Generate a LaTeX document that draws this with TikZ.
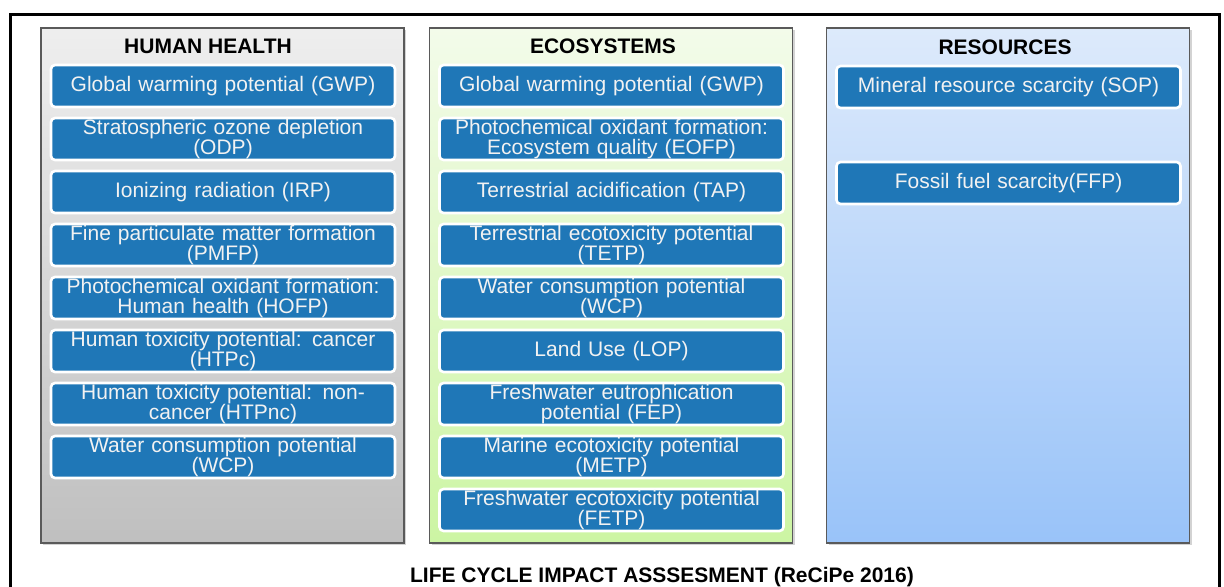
\documentclass[tikz,border=0pt]{standalone}
\usepackage{fontspec}
\setmainfont{Liberation Sans}
\usetikzlibrary{shadows}
\definecolor{itemblue}{HTML}{1F77B7}
\definecolor{framegray}{HTML}{5A5A5A}
\begin{document}
\begin{tikzpicture}[x=0.5pt,y=-0.5pt]
          \tikzstyle{every node}=[inner sep=0pt];
          \tikzstyle{column}=[draw=framegray,line width=0.6pt,minimum width=181.5pt,minimum height=257.5pt,drop shadow={shadow xshift=1pt,shadow yshift=-1.2pt,opacity=0.35}];
          \tikzstyle{head}=[font=\fontsize{10.5}{12}\selectfont\bfseries];
          \tikzstyle{item}=[draw=white,line width=1.3pt,fill=itemblue,rounded corners=2pt,minimum width=172pt,minimum height=21pt,text width=168pt,align=center,text=white!95!black,font=\fontsize{10.5}{10}\selectfont];
          \useasboundingbox (0,0) rectangle (1224,587);
          % outer frame, its lower edge runs off the page
          \draw[line width=1.5pt] (10.5,14.5) rectangle (1219,620);
          % the three columns
          \node[column,top color=gray!13,bottom color=gray!50] (hh) at (222.5,285.5) {};
          \node[column,top color={rgb,255:red,243;green,251;blue,234},bottom color={rgb,255:red,204;green,245;blue,163}] (eco) at (611,285.5) {};
          \node[column,top color={rgb,255:red,221;green,234;blue,251},bottom color={rgb,255:red,153;green,195;blue,249}] (res) at (1008,285.5) {};
          \node[head] (hhtitle) at (208,46) {HUMAN HEALTH};
          \node[head] (ecotitle) at (603,46) {ECOSYSTEMS};
          \node[head] (restitle) at (1005,47) {RESOURCES};
          % human health
          \node[item] (hh1) at (223,86) {Global warming potential (GWP)};
          \node[item] (hh2) at (223,139) {Stratospheric ozone depletion\\(ODP)};
          \node[item] (hh3) at (223,192) {Ionizing radiation (IRP)};
          \node[item] (hh4) at (223,245) {Fine particulate matter formation\\(PMFP)};
          \node[item] (hh5) at (223,298) {Photochemical oxidant formation:\\Human health (HOFP)};
          \node[item] (hh6) at (223,351) {Human toxicity potential: cancer\\(HTPc)};
          \node[item] (hh7) at (223,404) {Human toxicity potential: non-\\cancer (HTPnc)};
          \node[item] (hh8) at (223,457) {Water consumption potential\\(WCP)};
          % ecosystems
          \node[item] (eco1) at (611.5,86) {Global warming potential (GWP)};
          \node[item] (eco2) at (611.5,139) {Photochemical oxidant formation:\\Ecosystem quality (EOFP)};
          \node[item] (eco3) at (611.5,192) {Terrestrial acidification (TAP)};
          \node[item] (eco4) at (611.5,245) {Terrestrial ecotoxicity potential\\(TETP)};
          \node[item] (eco5) at (611.5,298) {Water consumption potential\\(WCP)};
          \node[item] (eco6) at (611.5,351) {Land Use (LOP)};
          \node[item] (eco7) at (611.5,404) {Freshwater eutrophication\\potential (FEP)};
          \node[item] (eco8) at (611.5,457) {Marine ecotoxicity potential\\(METP)};
          \node[item] (eco9) at (611.5,510) {Freshwater ecotoxicity potential\\(FETP)};
          % resources
          \node[item] (res1) at (1008.5,87) {Mineral resource scarcity (SOP)};
          \node[item] (res2) at (1008.5,183) {Fossil fuel scarcity(FFP)};
          \node[font=\fontsize{10.5}{12}\selectfont\bfseries] (lcia) at (662,577) {LIFE CYCLE IMPACT ASSSESMENT (ReCiPe 2016)};
      \end{tikzpicture}
\end{document}
